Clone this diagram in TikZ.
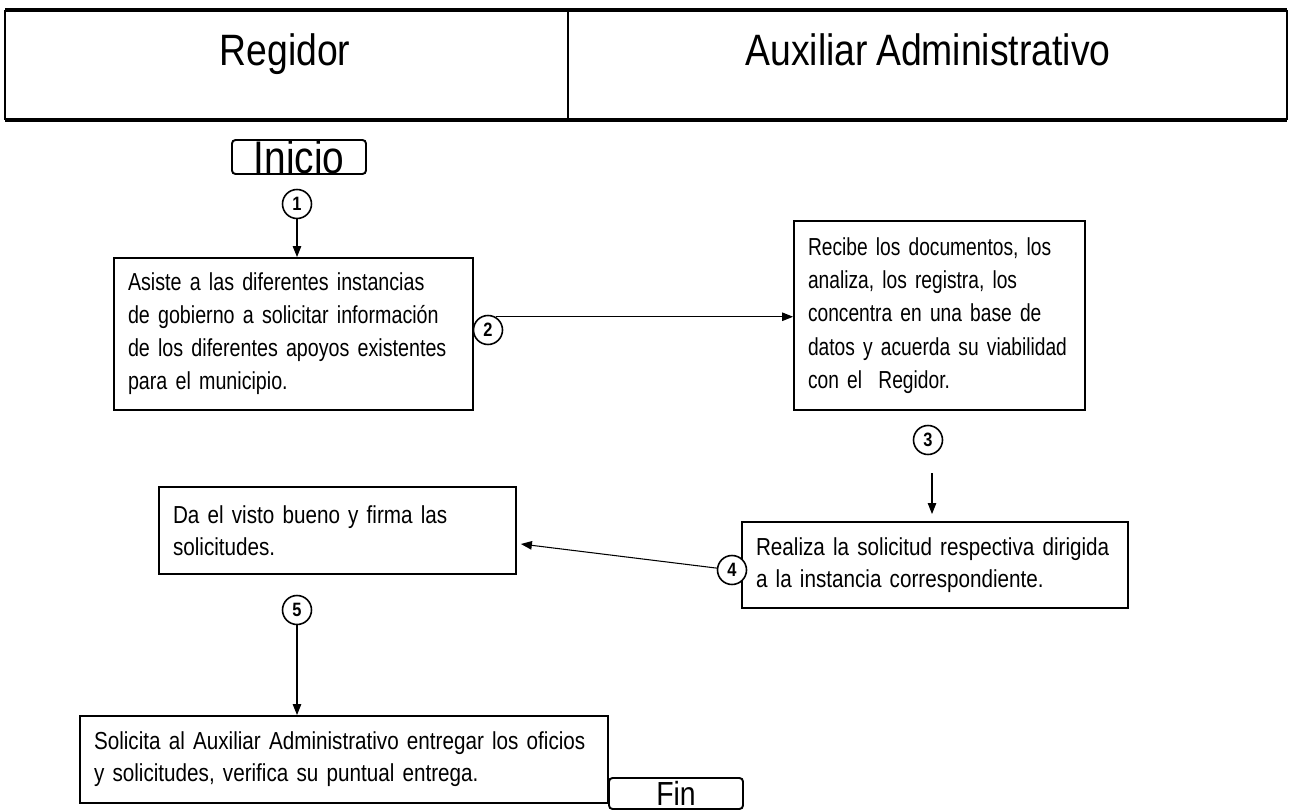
\documentclass[tikz,border=0pt]{standalone}
\usepackage{fontspec}
\setmainfont{Liberation Sans}[FakeStretch=0.85, WordSpace=0.8]
\newfontfamily\textocaja{Liberation Sans}[FakeStretch=0.84, WordSpace=0.8]
\newfontfamily\textomedio{Liberation Sans}[FakeStretch=0.8, WordSpace=0.8]
\newfontfamily\textoangosto{Liberation Sans}[FakeStretch=0.78, WordSpace=0.8]
\usetikzlibrary{arrows.meta}

\begin{document}
\begin{tikzpicture}[x=0.02cm, y=-0.02cm,
	caja/.style={draw, line width=1.1pt, align=left, inner xsep=0.28cm, inner ysep=0pt, font=\textocaja\fontsize{14}{18.3}\selectfont},
	paso/.style={draw, circle, fill=white, line width=0.9pt, minimum size=0.58cm, inner sep=0pt, font=\fontsize{11}{12}\selectfont\bfseries},
	terminal/.style={draw, rounded corners=2pt, line width=1.1pt, inner sep=0pt},
	titulo/.style={anchor=base, font=\fontsize{25}{28}\selectfont},
	flecha/.style={-{Triangle[length=0.22cm, width=0.17cm]}, line width=0.6pt}]

	\useasboundingbox (0,0) rectangle (1290,810);

	\draw[line width=0.8pt] (5,10) -- (5,120) (1287,10) -- (1287,120) (568,10) -- (568,120);
	\draw[line width=1.8pt] (5,10) -- (1287,10) (5,120) -- (1287,120);
	\node[titulo] (regidor) at (285,66) {Regidor};
	\node[titulo] (auxiliar) at (928,66) {Auxiliar Administrativo};

	\node[terminal, minimum width=2.68cm, minimum height=0.58cm, text height=0.68cm, text depth=-0.1cm, font=\fontsize{26}{26}\selectfont] (inicio) at (299,157) {Inicio};
	\node[terminal, minimum width=2.68cm, minimum height=0.62cm, text height=0.54cm, text depth=0.08cm, font=\fontsize{19}{19}\selectfont] (fin) at (676,793.5) {Fin};

	\node[caja, text width=6.62cm, minimum height=3.04cm, font=\textomedio\fontsize{14}{18.8}\selectfont] (cajaA) at (293.5,334)
		{Asiste a las diferentes instancias\\de gobierno a solicitar información\\de los diferentes apoyos existentes\\para el municipio.};
	\node[caja, text width=5.26cm, minimum height=3.78cm, font=\textoangosto\fontsize{14}{19}\selectfont] (cajaB) at (939.5,315.5)
		{Recibe los documentos, los\\analiza, los registra, los\\concentra en una base de\\datos y acuerda su viabilidad\\con el\ \ Regidor.};
	\node[caja, text width=6.58cm, minimum height=1.74cm] (cajaC) at (337.5,530.5)
		{Da el visto bueno y firma las\\solicitudes.};
	\node[caja, text width=7.16cm, minimum height=1.72cm] (cajaD) at (935,565)
		{Realiza la solicitud respectiva dirigida\\a la instancia correspondiente.};
	\node[caja, text width=10cm, minimum height=1.74cm] (cajaE) at (344,759.5)
		{Solicita al Auxiliar Administrativo entregar los oficios\\ y solicitudes, verifica su puntual entrega.};

	\node[paso] (p1) at (297,204) {1};
	\node[paso] (p2) at (488,330) {2};
	\node[paso] (p3) at (928,440) {3};
	\node[paso] (p4) at (732,570) {4};
	\node[paso] (p5) at (297,610) {5};
	\coordinate (t3) at (932,473);

	\draw[flecha] (p1) -- (p1 |- cajaA.north);
	\draw[flecha] (p2.60) -- (p2.60 -| cajaB.west);
	\draw[flecha, shorten >=0.14cm] (t3) -- (t3 |- cajaD.north);
	\draw[flecha, shorten >=0.08cm] (p4) -- ([yshift=-0.26cm]cajaC.east);
	\draw[flecha] (p5) -- (p5 |- cajaE.north);
\end{tikzpicture}
\end{document}
